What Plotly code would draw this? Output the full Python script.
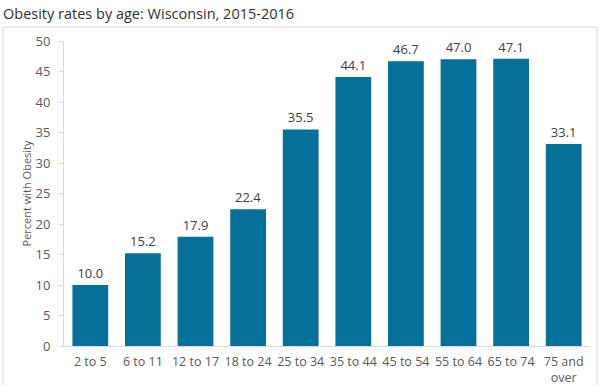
import plotly.graph_objects as go

categories = ["2 to 5", "6 to 11", "12 to 17", "18 to 24", "25 to 34", "35 to 44",
              "45 to 54", "55 to 64", "65 to 74", "75 and<br>over"]
values = [10.0, 15.2, 17.9, 22.4, 35.5, 44.1, 46.7, 47.0, 47.1, 33.1]
y_ticks = [0, 5, 10, 15, 20, 25, 30, 35, 40, 45, 50]

FONT = "Open Sans, Liberation Sans, sans-serif"

fig = go.Figure(go.Bar(
    x=categories, y=values,
    marker=dict(color="#05709a", line=dict(width=0)),
    text=values, texttemplate="%{y:.1f}", textposition="outside",
    textfont=dict(size=13, color="#404040", family=FONT),
    cliponaxis=False,
))

fig.update_layout(
    width=600, height=385,
    margin=dict(l=64, r=10, t=41, b=39, autoexpand=False),
    paper_bgcolor="white", plot_bgcolor="white",
    bargap=0.32,
    showlegend=False,
    title=dict(text="Obesity rates by age: Wisconsin, 2015-2016",
               x=0.005, xanchor="left", y=0.965, yanchor="middle",
               font=dict(size=14.5, color="#303030", family=FONT)),
    font=dict(family=FONT),
    xaxis=dict(showgrid=False, showline=True, linecolor="#d9d9d9", linewidth=1,
               automargin=False, ticklabelstandoff=4,
               ticks="", tickfont=dict(size=12.5, color="#595959")),
    yaxis=dict(range=[0, 50], tickvals=y_ticks, showgrid=False, zeroline=False,
               automargin=False, ticklabelstandoff=6,
               showline=True, linecolor="#d9d9d9", linewidth=1,
               ticks="outside", ticklen=4, tickcolor="#d9d9d9",
               tickfont=dict(size=13, color="#595959"),
               title=dict(text="Percent with Obesity", standoff=1,
                          font=dict(size=11, color="#595959"))),
    shapes=[dict(type="rect", xref="paper", yref="paper",
                 x0=-0.116, x1=1.0133, y0=-0.2, y1=1.046,
                 line=dict(color="#d9d9d9", width=1), layer="below")],
)

fig.write_html("out.html", config={"displayModeBar": False},
               post_script="document.body.style.margin='0';")
